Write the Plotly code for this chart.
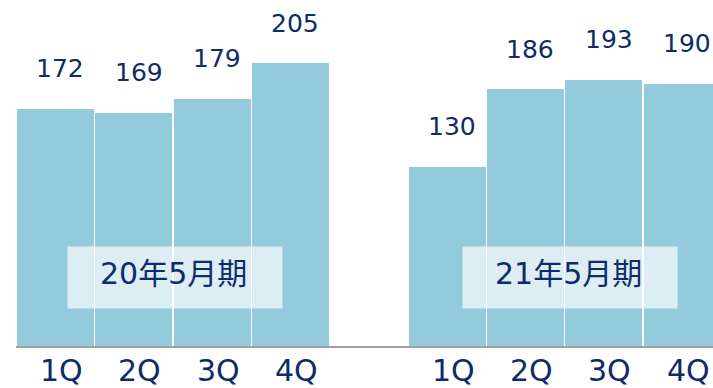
import plotly.graph_objects as go

quarters = ["1Q", "2Q", "3Q", "4Q"]
periods = ["20年5月期", "21年5月期"]
values_fy20 = [172, 169, 179, 205]
values_fy21 = [130, 186, 193, 190]

BAR = "#93CBDC"
NAVY = "#0E2B6A"
FONT = "DejaVu Sans, Noto Sans CJK JP, sans-serif"

x20 = [0, 1, 2, 3]
x21 = [5, 6, 7, 8]
xs = x20 + x21
vals = values_fy20 + values_fy21

fig = go.Figure()
fig.add_trace(go.Bar(x=xs, y=vals, width=0.98, marker=dict(color=BAR, line=dict(width=0)),
                     hoverinfo="skip"))

ann = []
for x, v in zip(xs, vals):
    ann.append(dict(x=x, y=v, xref="x", yref="y", text=str(v), showarrow=False,
                    yanchor="middle", xanchor="center", yshift=40, xshift=5,
                    font=dict(family=FONT, size=25, color=NAVY)))
for grp in (x20, x21):
    for x, q in zip(grp, quarters):
        ann.append(dict(x=x, y=0, xref="x", yref="y", text=q, showarrow=False,
                        yanchor="middle", xanchor="center", yshift=-24, xshift=6,
                        font=dict(family=FONT, size=30, color=NAVY)))
for grp, p, dx in ((x20, periods[0], 2), (x21, periods[1], 5)):
    cx = sum(grp) / len(grp)
    ann.append(dict(x=cx, y=0, xref="x", yref="y", text=" ", showarrow=False,
                    yanchor="middle", xanchor="center", yshift=69, xshift=dx,
                    width=212, height=59, bgcolor="rgba(255,255,255,0.68)",
                    font=dict(family=FONT, size=10, color=NAVY)))
    ann.append(dict(x=cx, y=0, xref="x", yref="y", text=p, showarrow=False,
                    yanchor="middle", xanchor="center", yshift=73, xshift=dx - 1,
                    font=dict(family=FONT, size=30, color=NAVY)))

fig.update_layout(
    width=713, height=388,
    margin=dict(l=16, r=0, t=0, b=42),
    plot_bgcolor="white", paper_bgcolor="white",
    showlegend=False, bargap=0,
    annotations=ann,
    xaxis=dict(range=[-0.504, 8.394], showticklabels=False, showgrid=False, zeroline=False,
               showline=True, linecolor="#A0A0A0", linewidth=2, ticks=""),
    yaxis=dict(range=[0, 250.7], visible=False, showgrid=False, zeroline=False),
)
fig.write_html("out.html")
